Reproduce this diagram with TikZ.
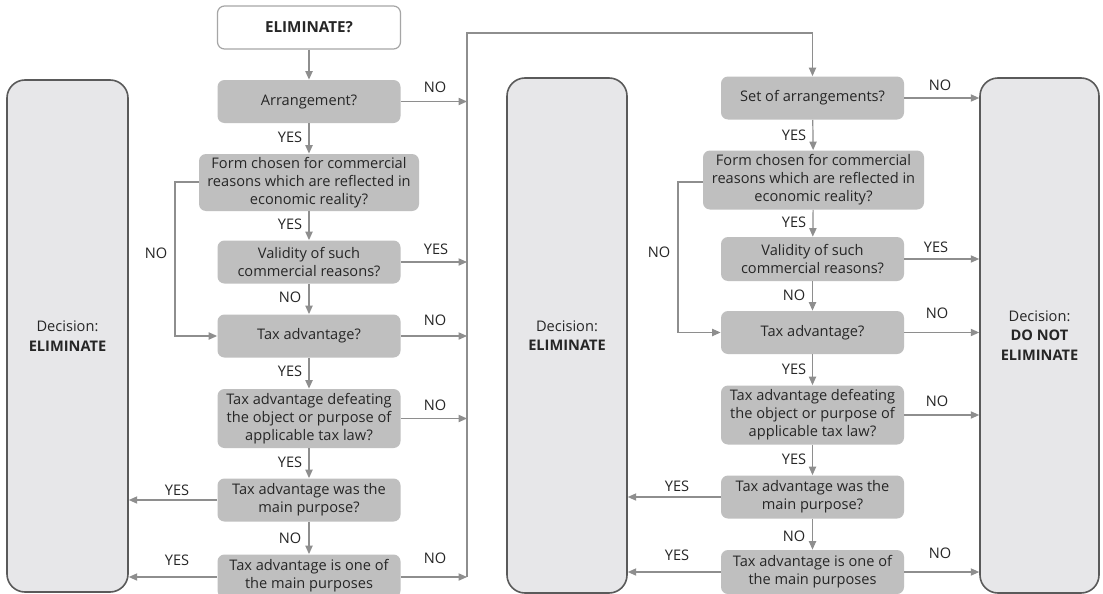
\documentclass[tikz,border=0pt]{standalone}
\usepackage{fontspec}
\setmainfont{Open Sans}
\usetikzlibrary{arrows.meta}
\definecolor{boxgray}{HTML}{BFBFBF}
\definecolor{bigfill}{HTML}{E7E7E9}
\definecolor{bigborder}{HTML}{5A5A5A}
\definecolor{linegray}{HTML}{8E8E8E}
\definecolor{topborder}{HTML}{A6A6A6}
\definecolor{txt}{HTML}{262626}
\tikzset{
  q/.style={fill=boxgray, rounded corners=3.5pt, align=center, inner sep=1pt,
    minimum width=91.5pt, minimum height=21.5pt, text=txt, font=\fontsize{7.3}{9}\selectfont},
  topq/.style={q, fill=white, draw=topborder, line width=0.6pt, font=\fontsize{7.6}{9}\selectfont\bfseries},
  big/.style={draw=bigborder, fill=bigfill, line width=0.8pt, rounded corners=9pt, align=center,
    text=txt, font=\fontsize{7.3}{9.8}\selectfont, inner sep=0pt},
  conn/.style={draw=linegray, line width=0.6pt, -{Triangle[length=4.2pt,width=3.6pt]}},
  plain/.style={draw=linegray, line width=0.6pt},
  lbl/.style={text=txt, font=\fontsize{7.3}{9}\selectfont, inner sep=0pt}
}
\begin{document}
\begin{tikzpicture}[x=0.5pt,y=-0.5pt]
\useasboundingbox (0,0) rectangle (1103,594);
\fill[white] (0,0) rectangle (1103,594);

% big decision boxes
\node[big, minimum width=60.5pt, minimum height=256pt] (L) at (67.5,336) {Decision:\\\textbf{ELIMINATE}};
\node[big, minimum width=60pt, minimum height=257.5pt] (M) at (567,335.5) {Decision:\\\textbf{ELIMINATE}};
\node[big, minimum width=59.5pt, minimum height=257.5pt] (R) at (1039.5,335.5) {Decision:\\\textbf{DO NOT}\\\textbf{ELIMINATE}};

% left column
\node[topq] (top) at (309,27.5) {ELIMINATE?};
\node[q] (arr) at (309,101.5) {Arrangement?};
\node[q, minimum width=110pt, minimum height=28.5pt] (form) at (309,182.5) {Form chosen for commercial\\reasons which are reflected in\\economic reality?};
\node[q] (valid) at (309,262) {Validity of such\\commercial reasons?};
\node[q] (tax) at (309,336) {Tax advantage?};
\node[q, minimum height=29.5pt] (def) at (309,418.5) {Tax advantage defeating\\the object or purpose of\\applicable tax law?};
\node[q] (main) at (309,500) {Tax advantage was the\\main purpose?};
\node[q] (one) at (309,576) {Tax advantage is one of\\the main purposes};

% right column
\node[q] (set) at (812.5,98) {Set of arrangements?};
\node[q, minimum width=110.5pt, minimum height=29.5pt] (form2) at (813.5,180) {Form chosen for commercial\\reasons which are reflected in\\economic reality?};
\node[q, minimum height=22pt] (valid2) at (812.5,259) {Validity of such\\commercial reasons?};
\node[q] (tax2) at (812.5,332.5) {Tax advantage?};
\node[q, minimum height=29.5pt] (def2) at (812.5,415) {Tax advantage defeating\\the object or purpose of\\applicable tax law?};
\node[q] (main2) at (812.5,497) {Tax advantage was the\\main purpose?};
\node[q, minimum height=22pt] (one2) at (812.5,572) {Tax advantage is one of\\the main purposes};

% bus
\coordinate (busT) at (467,33);
\coordinate (busB) at (467,577);
\coordinate (loopL) at (175,182);
\coordinate (loopR) at (678,182);

% left column vertical flow
\draw[conn] (top) -- (arr);
\draw[conn] (arr) -- (form);
\draw[conn] (form) -- (valid);
\draw[conn] (valid) -- (tax);
\draw[conn] (tax) -- (def);
\draw[conn] (def) -- (main);
\draw[conn] (main) -- (one);
\draw[conn] (form.west |- loopL) -- (loopL) |- (tax.west);

% to bus
\draw[plain] (busB) -- (busT) -| ([yshift=5pt]set.north);
\draw[conn] (busT -| set.north) -- (set.north);
\draw[conn] (arr.east) -- (arr.east -| busT);
\draw[conn] (valid.east) -- (valid.east -| busT);
\draw[conn] (tax.east) -- (tax.east -| busT);
\draw[conn] (def.east) -- (def.east -| busT);
\draw[conn] (one.east |- busB) -- (busB);
\draw[conn] (main.west) -- (main.west -| L.east);
\draw[conn] (one.west |- busB) -- (busB -| L.east);

% right column vertical flow
\draw[conn] (set) -- (form2);
\draw[conn] (form2) -- (valid2);
\draw[conn] (valid2) -- (tax2);
\draw[conn] (tax2) -- (def2);
\draw[conn] (def2) -- (main2);
\draw[conn] (main2) -- (one2);
\draw[conn] (form2.west |- loopR) -- (loopR) |- (tax2.west);
\draw[conn] (set.east) -- (set.east -| R.west);
\draw[conn] (valid2.east) -- (valid2.east -| R.west);
\draw[conn] (tax2.east) -- (tax2.east -| R.west);
\draw[conn] (def2.east) -- (def2.east -| R.west);
\draw[conn] (one2.east) -- (one2.east -| R.west);
\draw[conn] (main2.west) -- (main2.west -| M.east);
\draw[conn] (one2.west) -- (one2.west -| M.east);

% left labels
\node[lbl] (l1) at (290,137) {YES};
\node[lbl] (l2) at (290,224) {YES};
\node[lbl] (l3) at (156,253) {NO};
\node[lbl] (l4) at (290,297) {NO};
\node[lbl] (l5) at (290,371) {YES};
\node[lbl] (l6) at (290,462) {YES};
\node[lbl] (l7) at (290,538) {NO};
\node[lbl] (l8) at (435,87) {NO};
\node[lbl] (l9) at (436,249) {YES};
\node[lbl] (l10) at (435,320) {NO};
\node[lbl] (l11) at (435,405) {NO};
\node[lbl] (l12) at (435,558) {NO};
\node[lbl] (l13) at (177,490) {YES};
\node[lbl] (l14) at (177,560) {YES};

% right labels
\node[lbl] (r1) at (940,85) {NO};
\node[lbl] (r2) at (794,135) {YES};
\node[lbl] (r3) at (794,222) {YES};
\node[lbl] (r4) at (659,252) {NO};
\node[lbl] (r5) at (936,247) {YES};
\node[lbl] (r6) at (794,295) {NO};
\node[lbl] (r7) at (937,313) {NO};
\node[lbl] (r8) at (794,369) {YES};
\node[lbl] (r9) at (937,401) {NO};
\node[lbl] (r10) at (794,459) {YES};
\node[lbl] (r11) at (677,486) {YES};
\node[lbl] (r12) at (794,536) {NO};
\node[lbl] (r13) at (677,555) {YES};
\node[lbl] (r14) at (940,553) {NO};
\end{tikzpicture}
\end{document}
